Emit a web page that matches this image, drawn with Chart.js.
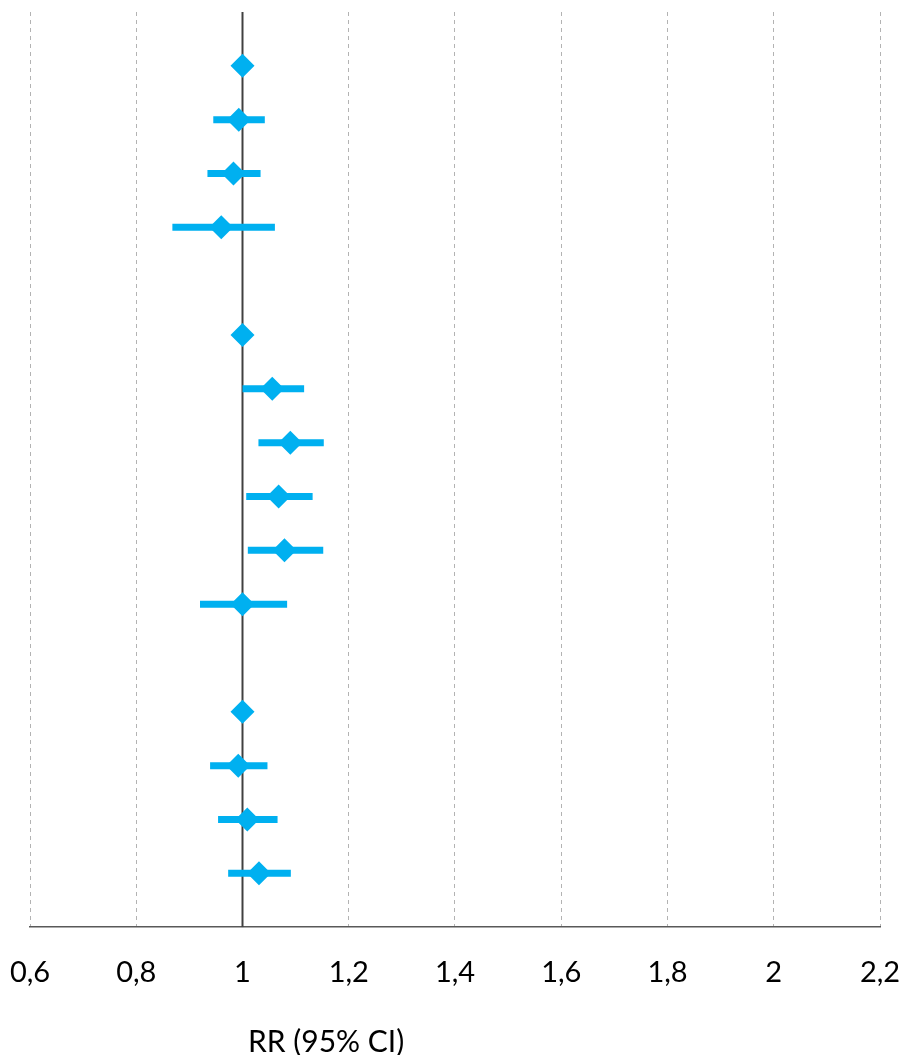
<!DOCTYPE html>
<html>
<head>
<meta charset="utf-8">
<script src="https://cdn.jsdelivr.net/npm/chart.js@4.4.1/dist/chart.umd.min.js"></script>
<style>
  html, body { margin: 0; padding: 0; background: #fff; }
  #wrap { width: 904px; height: 1055px; position: relative; }
</style>
</head>
<body>
<div id="wrap"><canvas id="forest"></canvas></div>
<script>
// row positions (top to bottom), rows 4 and 11 are empty separators
const rows  = [0, 1, 2, 3, 5, 6, 7, 8, 9, 10, 12, 13, 14, 15];
const rr    = [1, 0.993, 0.983, 0.960, 1, 1.056, 1.090, 1.068, 1.079, 1.000, 1, 0.992, 1.009, 1.031];
const lower = [null, 0.945, 0.934, 0.868, null, 1.000, 1.030, 1.007, 1.010, 0.920, null, 0.939, 0.954, 0.973];
const upper = [null, 1.042, 1.034, 1.061, null, 1.116, 1.153, 1.132, 1.152, 1.084, null, 1.047, 1.066, 1.091];
const xTicks = [0.6, 0.8, 1, 1.2, 1.4, 1.6, 1.8, 2, 2.2];
const axisTitle = 'RR (95% CI)';

const blue = '#00B0F0';

// CI segments as one broken line
const ciPoints = [];
rows.forEach((r, i) => {
  if (lower[i] === null) return;
  ciPoints.push({ x: lower[i], y: r });
  ciPoints.push({ x: upper[i], y: r });
  ciPoints.push({ x: null, y: null });
});

const points = rows.map((r, i) => ({ x: rr[i], y: r }));

const titlePlugin = {
  id: 'axisTitle',
  afterDraw(chart) {
    const c = chart.ctx;
    c.save();
    c.font = '30px Lato';
    c.fillStyle = '#000';
    c.textAlign = 'left';
    c.textBaseline = 'alphabetic';
    c.fillText(axisTitle, 248, 1052);
    c.restore();
  }
};

new Chart(document.getElementById('forest'), {
  type: 'scatter',
  data: {
    datasets: [
      {
        type: 'line',
        data: [{ x: 1, y: -1 }, { x: 1, y: 16 }],
        borderColor: '#404040',
        borderWidth: 2,
        pointRadius: 0,
        order: 3
      },
      {
        type: 'line',
        data: ciPoints,
        borderColor: blue,
        borderWidth: 7,
        borderCapStyle: 'butt',
        spanGaps: false,
        pointRadius: 0,
        order: 2
      },
      {
        data: points,
        pointStyle: 'rectRot',
        pointRadius: 12,
        backgroundColor: blue,
        borderWidth: 0,
        order: 1
      }
    ]
  },
  options: {
    responsive: true,
    maintainAspectRatio: false,
    animation: false,
    layout: { padding: { left: 30, right: 24, top: 6, bottom: 37 } },
    plugins: {
      legend: { display: false },
      tooltip: { enabled: false }
    },
    scales: {
      x: {
        type: 'linear',
        min: 0.6,
        max: 2.2,
        afterBuildTicks: axis => { axis.ticks = xTicks.map(v => ({ value: v })); },
        afterFit: axis => { axis.paddingLeft = 0; axis.paddingRight = 0; },
        grid: {
          color: '#B3B3B3',
          lineWidth: 1,
          drawTicks: false
        },
        border: {
          display: true,
          color: '#595959',
          width: 1.5,
          dash: ctx => ctx.type === 'tick' ? [4, 4] : []
        },
        ticks: {
          padding: 28,
          color: '#000',
          font: { family: 'Lato', size: 29 },
          callback: v => String(Math.round(v * 10) / 10).replace('.', ',')
        }
      },
      y: {
        type: 'linear',
        display: false,
        reverse: true,
        min: -1,
        max: 16
      }
    }
  },
  plugins: [titlePlugin]
});
</script>
</body>
</html>
